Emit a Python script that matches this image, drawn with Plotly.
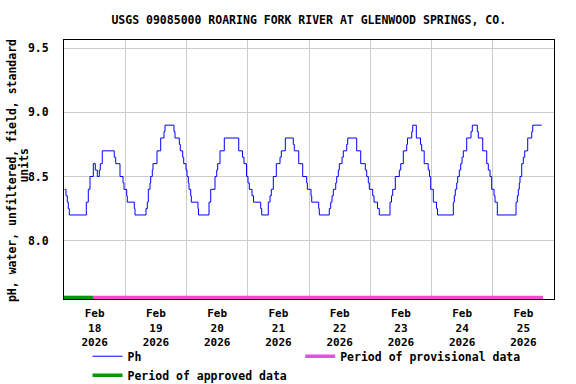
import pandas as pd
import plotly.graph_objects as go

# Hours since 2026-02-18 00:00 (start of each step) and pH values
hours = [0.2, 0.78, 1.29, 1.68, 2.08, 8.74, 9.52, 10.19, 11.48, 12.26, 13.05, 13.83, 14.22, 15.0, 19.7, 20.26,
         21.94, 23.12, 23.51, 24.57, 24.8, 27.55, 27.82, 32.13, 32.64, 33.03, 33.7, 33.97, 34.6, 34.87, 36.44,
         37.89, 39.18, 39.58, 43.1, 43.5, 45.18, 45.57, 46.51, 46.9, 47.81, 48.2, 48.71, 48.98, 49.65, 49.88,
         52.5, 52.7, 56.82, 57.49, 59.17, 59.84, 60.23, 61.13, 62.81, 68.46, 69.95, 70.53, 71.51, 72.1, 72.61,
         73.67, 74.26, 77.08, 77.47, 80.05, 80.72, 81.23, 82.01, 83.19, 84.64, 85.15, 86.72, 89.85, 90.24,
         91.97, 93.53, 95.1, 95.34, 96.79, 97.06, 99.8, 100.04, 103.96, 104.5, 105.02, 105.53, 106.47, 106.86,
         107.48, 107.88, 108.93, 109.44, 110.78, 111.17, 114.69, 116.26, 118.06, 118.61, 119.24, 119.63,
         120.96, 121.47, 122.85, 123.55, 127.74, 128.33, 128.8, 129.82, 131.39, 131.94, 132.95, 134.29, 134.6,
         136.25, 136.64, 138.05, 139.69, 140.17, 141.14, 142.71, 143.22, 143.69, 144.71, 145.96, 146.36,
         152.55, 152.94, 153.33, 153.88, 154.27, 154.9, 155.45, 155.96, 156.47, 157.8, 159.48, 159.99, 161.95,
         162.34, 164.07, 165.64, 166.26, 166.93, 167.59, 168.5, 168.89, 169.79, 177.12, 177.63, 178.02,
         178.41, 178.68, 179.35, 179.98, 180.53, 181.7, 183.27, 183.66, 187.19]
ph = [8.4, 8.35, 8.3, 8.25, 8.2, 8.3, 8.4, 8.5, 8.6, 8.55, 8.5, 8.55, 8.6, 8.7, 8.65, 8.6,
      8.5, 8.45, 8.4, 8.35, 8.3, 8.25, 8.2, 8.25, 8.3, 8.4, 8.45, 8.5, 8.55, 8.6, 8.7,
      8.8, 8.85, 8.9, 8.85, 8.8, 8.75, 8.7, 8.65, 8.6, 8.55, 8.5, 8.45, 8.4, 8.35, 8.3,
      8.25, 8.2, 8.3, 8.4, 8.5, 8.55, 8.6, 8.7, 8.8, 8.7, 8.65, 8.6, 8.5, 8.45, 8.4,
      8.35, 8.3, 8.25, 8.2, 8.3, 8.35, 8.4, 8.5, 8.6, 8.65, 8.7, 8.8, 8.75, 8.7,
      8.6, 8.5, 8.45, 8.4, 8.35, 8.3, 8.25, 8.2, 8.25, 8.3, 8.35, 8.4, 8.45, 8.5,
      8.55, 8.6, 8.65, 8.7, 8.75, 8.8, 8.7, 8.6, 8.55, 8.5, 8.45, 8.4,
      8.35, 8.3, 8.25, 8.2, 8.3, 8.35, 8.4, 8.5, 8.55, 8.6, 8.7, 8.75, 8.8,
      8.85, 8.9, 8.8, 8.75, 8.7, 8.6, 8.55, 8.5, 8.4, 8.3, 8.25, 8.2,
      8.3, 8.35, 8.4, 8.45, 8.5, 8.55, 8.6, 8.65, 8.7, 8.8, 8.85, 8.9, 8.85,
      8.8, 8.7, 8.6, 8.55, 8.5, 8.4, 8.35, 8.3, 8.2, 8.3, 8.35, 8.4,
      8.45, 8.5, 8.6, 8.65, 8.7, 8.8, 8.85, 8.9, 8.9]

approved_hours = [0.0, 11.4]
provisional_hours = [11.4, 187.7]

day_labels = ["18", "19", "20", "21", "22", "23", "24", "25"]
y_ticks = [8.0, 8.5, 9.0, 9.5]
y_title_lines = ["pH, water, unfiltered, field, standard", "units"]

start = pd.Timestamp("2026-02-18 00:00")
t = [start + pd.Timedelta(hours=h) for h in hours]
t_app = [start + pd.Timedelta(hours=h) for h in approved_hours]
t_prov = [start + pd.Timedelta(hours=h) for h in provisional_hours]

noon_ticks = [start + pd.Timedelta(days=i, hours=12) for i in range(len(day_labels))]
midnights = [start + pd.Timedelta(days=i) for i in range(len(day_labels) + 1)]
tick_text = ["Feb<br>%s<br>2026" % d for d in day_labels]

FONT = "DejaVu Sans Mono"
LFONT = dict(family=FONT, size=11.5, weight="bold", color="black")

fig = go.Figure()
fig.add_trace(go.Scatter(x=t, y=ph, mode="lines", line=dict(color="#0000FF", width=1, shape="hv"),
                         name="Ph", legend="legend"))
fig.add_trace(go.Scatter(x=t_prov, y=[0.006, 0.006], mode="lines", yaxis="y2",
                         line=dict(color="#F04CDA", width=3.5), name="Period of provisional data",
                         legend="legend2"))
fig.add_trace(go.Scatter(x=t_app, y=[0.006, 0.006], mode="lines", yaxis="y2",
                         line=dict(color="#009900", width=3.5), name="Period of approved data",
                         legend="legend"))

fig.update_layout(
    width=576, height=384,
    margin=dict(l=64, r=22, t=40, b=85, autoexpand=False),
    paper_bgcolor="white", plot_bgcolor="white",
    font=dict(family=FONT, size=11.5, color="black", weight="bold"),
    title=dict(text="USGS 09085000 ROARING FORK RIVER AT GLENWOOD SPRINGS, CO.",
               x=0.536, xanchor="center", y=1 - 20 / 384, yanchor="middle",
               font=dict(family=FONT, size=11.5, color="black", weight="bold")),
    xaxis=dict(range=[start, start + pd.Timedelta(days=8)], tickmode="array",
               tickvals=noon_ticks, ticktext=tick_text, showgrid=False, ticks="",
               tickfont=dict(family=FONT, size=11, weight="bold"),
               ticklabelstandoff=4, automargin=False,
               showline=True, linecolor="black", linewidth=1, mirror=True, zeroline=False,
               minor=dict(tickmode="array", tickvals=midnights, showgrid=True,
                          gridcolor="#cccccc", gridwidth=1, ticks="")),
    yaxis=dict(range=[7.545, 9.564], tickmode="array", tickvals=y_ticks,
               ticktext=["%.1f" % v for v in y_ticks], showgrid=True, gridcolor="#cccccc",
               gridwidth=1, ticks="", ticklabelstandoff=12, automargin=False,
               tickfont=dict(family=FONT, size=11.5, weight="bold"),
               showline=True, linecolor="black", linewidth=1, mirror=True, zeroline=False),
    yaxis2=dict(range=[0, 1], overlaying="y", visible=False, fixedrange=True),
    showlegend=True,
    legend=dict(orientation="v", x=0.048, xanchor="left", y=-0.165, yanchor="top",
                traceorder="normal", bgcolor="rgba(0,0,0,0)", font=LFONT, tracegroupgap=0),
    legend2=dict(orientation="v", x=0.482, xanchor="left", y=-0.165, yanchor="top",
                 bgcolor="rgba(0,0,0,0)", font=LFONT),
    annotations=[
        dict(text=y_title_lines[0], xref="paper", yref="paper", x=(12 - 64) / 490, y=0.494,
             xanchor="center", yanchor="middle", textangle=-90, showarrow=False, font=LFONT),
        dict(text=y_title_lines[1], xref="paper", yref="paper", x=(24.5 - 64) / 490, y=0.517,
             xanchor="center", yanchor="middle", textangle=-90, showarrow=False, font=LFONT),
    ],
)

fig.write_html("out.html", post_script="document.body.style.margin='0px';",
               config={"displayModeBar": False})
